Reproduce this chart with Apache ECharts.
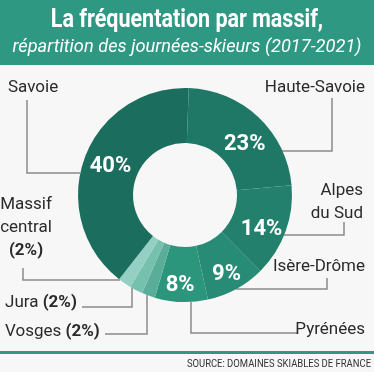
<!DOCTYPE html>
<html><head><meta charset="utf-8">
<script src="https://cdn.jsdelivr.net/npm/echarts@6/dist/echarts.min.js"></script>
<style>html,body{margin:0;padding:0;background:#f7f7f7}#c{width:374px;height:372px}</style>
</head><body><div id="c"></div>
<script>
// ---- data ----
const categories = ['Haute-Savoie', 'Alpes du Sud', 'Isère-Drôme', 'Pyrénées', 'Vosges', 'Jura', 'Massif central', 'Savoie'];
const shares = [23, 14, 9, 8, 2, 2, 2, 40];
const titleText = 'La fréquentation par massif,';
const subtitleText = 'répartition des journées-skieurs (2017-2021)';
const sourceText = 'SOURCE: DOMAINES SKIABLES DE FRANCE';

// ---- styles / layout ----
const sliceColors = ['#1f7866', '#22806c', '#278b75', '#2c967d', '#5aae99', '#76c0ae', '#93d0c3', '#1b6d5d'];
const FONT = "Roboto, 'Liberation Sans', sans-serif";
const TEAL = '#2e9882';
const CENTER = [185, 195];
const RADIUS = [52, 107];
const nameLines = { 'Alpes du Sud': 'Alpes\ndu Sud', 'Massif central': 'Massif\ncentral' };
const valueLabelOffset = {
  'Haute-Savoie': [3, 9], 'Alpes du Sud': [-1, 6], 'Isère-Drôme': [2, 7], 'Pyrénées': [-2, 8], 'Savoie': [3, 0]
};
const labelPlacement = {
  'Savoie':         { x: 8,   y: 88,  align: 'left',   line: [[80, 173], [27, 173], [27, 100]] },
  'Haute-Savoie':   { x: 365, y: 88,  align: 'right',  line: [[282, 151], [332, 151], [332, 98]] },
  'Alpes du Sud':   { x: 363, y: 202, align: 'right',  line: [[284, 235], [344, 235], [344, 222]] },
  'Isère-Drôme':    { x: 365, y: 267, align: 'right',  line: [[236, 289], [327, 289], [327, 278]] },
  'Pyrénées':       { x: 365, y: 330, align: 'right',  line: [[191, 302], [191, 333], [298, 333]] },
  'Vosges':         { x: 5,   y: 332, align: 'left',   line: [[147, 295], [147, 334], [105, 334]] },
  'Jura':           { x: 5,   y: 303, align: 'left',   line: [[132, 288], [132, 307], [82, 307]] },
  'Massif central': { x: 26,  y: 228, align: 'center', line: [[120, 280], [23, 280], [23, 268]] }
};

const pieData = categories.map((c, i) => ({ name: c, value: shares[i], itemStyle: { color: sliceColors[i] } }));

const chart = echarts.init(document.getElementById('c'), null, { renderer: 'canvas' });
chart.setOption({
  backgroundColor: '#f7f7f7',
  animation: false,
  graphic: [
    { type: 'rect', left: 0, top: 0, shape: { width: 374, height: 65 }, style: { fill: TEAL }, z: -1 },
    { type: 'rect', left: 0, top: 351, shape: { width: 374, height: 3 }, style: { fill: TEAL }, z: -1 },
    { type: 'text', x: 187, y: 21, scaleX: 0.86,
      style: { text: titleText, fill: '#fff', font: "bold 25px " + FONT, align: 'center', verticalAlign: 'middle' } },
    { type: 'text', x: 187, y: 47, scaleX: 0.96,
      style: { text: subtitleText, fill: '#fff', font: "italic 19px " + FONT, align: 'center', verticalAlign: 'middle' } },
    { type: 'text', x: 371, y: 364, scaleX: 0.9,
      style: { text: sourceText, fill: '#333', font: "10.5px " + FONT, align: 'right', verticalAlign: 'middle' } }
  ],
  series: [
    {
      type: 'pie', center: CENTER, radius: RADIUS, startAngle: 88, clockwise: true,
      silent: true, avoidLabelOverlap: false,
      itemStyle: { borderWidth: 0 },
      label: {
        position: 'inside', color: '#fff', fontSize: 22, fontWeight: 'bold', fontFamily: FONT,
        formatter: p => (p.value > 2 ? p.value + '%' : '')
      },
      labelLine: { show: false },
      labelLayout: params => {
        const o = valueLabelOffset[categories[params.dataIndex]] || [0, 0];
        return { dx: o[0], dy: o[1] };
      },
      data: pieData
    },
    {
      type: 'pie', center: CENTER, radius: RADIUS, startAngle: 88, clockwise: true,
      silent: true, avoidLabelOverlap: false,
      itemStyle: { color: 'rgba(0,0,0,0)', borderWidth: 0 },
      label: {
        position: 'outside', color: '#2a2a2a', fontSize: 17, fontFamily: FONT, lineHeight: 23,
        formatter: p => {
          const nm = nameLines[p.name] || p.name;
          if (p.value <= 2) {
            return nm + (nm.indexOf('\n') >= 0 ? '\n' : ' ') + '{b|(' + p.value + '%)}';
          }
          return nm;
        },
        rich: { b: { fontSize: 17, fontWeight: 'bold', fontFamily: FONT, color: '#2a2a2a', lineHeight: 23 } }
      },
      labelLine: { show: true, length: 5, length2: 5, lineStyle: { color: '#8a8a8a', width: 1.5 } },
      labelLayout: params => {
        const pl = labelPlacement[categories[params.dataIndex]];
        return { x: pl.x, y: pl.y, align: pl.align, verticalAlign: 'middle', labelLinePoints: pl.line };
      },
      data: categories.map((c, i) => ({ name: c, value: shares[i] }))
    }
  ]
});
</script>
</body></html>
